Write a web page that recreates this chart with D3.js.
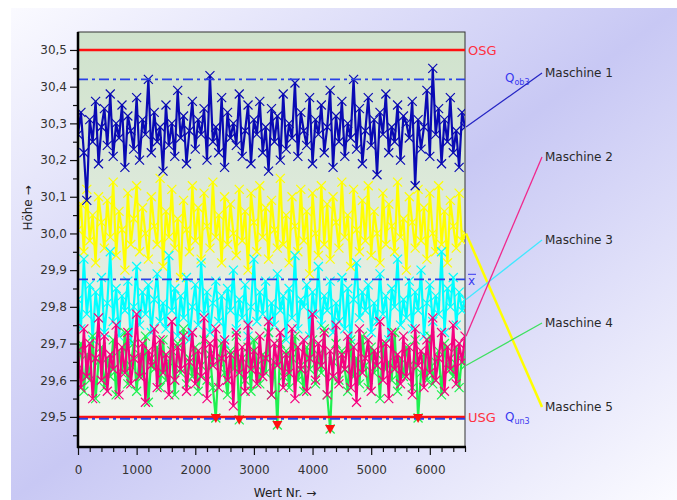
<!DOCTYPE html>
<html>
<head>
<meta charset="utf-8">
<script src="https://cdn.jsdelivr.net/npm/d3@7"></script>
<style>
  body { margin: 0; background: #fff; }
  text { font-family: "DejaVu Sans", Arial, sans-serif; }
</style>
</head>
<body>
<div id="chart"></div>
<script>
// measured values, one point every 50 parts (Wert Nr.)
var xStep = 50;
var maschine1 = [
  30.27,30.33,30.22,30.09,30.31,30.25,30.36,30.19,30.29,30.34,
  30.24,30.38,30.21,30.30,30.26,30.35,30.18,30.32,30.28,30.23,
  30.37,30.20,30.31,30.27,30.42,30.22,30.33,30.25,30.29,30.17,
  30.35,30.24,30.30,30.21,30.39,30.26,30.32,30.19,30.28,30.36,
  30.23,30.31,30.27,30.34,30.20,30.43,30.25,30.29,30.22,30.37,
  30.18,30.33,30.26,30.30,30.24,30.38,30.21,30.28,30.35,30.19,
  30.31,30.27,30.36,30.22,30.29,30.17,30.34,30.25,30.32,30.20,
  30.38,30.23,30.30,30.26,30.41,30.21,30.33,30.28,30.24,30.37,
  30.19,30.31,30.27,30.35,30.22,30.29,30.39,30.18,30.32,30.25,
  30.36,30.21,30.30,30.26,30.42,30.23,30.34,30.19,30.28,30.37,
  30.24,30.31,30.16,30.33,30.27,30.38,30.22,30.29,30.25,30.35,
  30.20,30.32,30.30,30.26,30.36,30.13,30.31,30.23,30.29,30.39,
  30.21,30.45,30.27,30.34,30.19,30.31,30.25,30.37,30.22,30.28,
  30.18,30.33,30.29
];
var maschine2 = [
  29.68,29.58,29.74,29.61,29.70,29.55,29.66,29.77,29.60,29.72,
  29.57,29.67,29.63,29.75,29.56,29.69,29.62,29.73,29.59,29.66,
  29.78,29.61,29.70,29.54,29.68,29.64,29.74,29.58,29.71,29.62,
  29.67,29.56,29.76,29.60,29.69,29.63,29.72,29.57,29.65,29.73,
  29.59,29.68,29.61,29.77,29.55,29.70,29.64,29.74,29.58,29.66,
  29.71,29.60,29.67,29.53,29.73,29.62,29.69,29.57,29.75,29.63,
  29.68,29.59,29.72,29.61,29.66,29.76,29.56,29.70,29.64,29.73,
  29.58,29.67,29.62,29.74,29.55,29.69,29.63,29.71,29.57,29.66,
  29.78,29.60,29.70,29.64,29.73,29.56,29.68,29.61,29.75,29.59,
  29.67,29.63,29.72,29.58,29.69,29.54,29.74,29.62,29.66,29.71,
  29.57,29.68,29.64,29.76,29.60,29.70,29.55,29.73,29.63,29.67,
  29.59,29.72,29.61,29.69,29.56,29.74,29.64,29.68,29.58,29.71,
  29.62,29.77,29.60,29.66,29.73,29.57,29.69,29.63,29.75,29.59,
  29.70,29.65,29.72
];
var maschine3 = [
  29.82,29.74,29.93,29.78,29.86,29.71,29.84,29.77,29.88,29.73,
  29.81,29.95,29.76,29.85,29.72,29.83,29.79,29.87,29.70,29.80,
  29.91,29.75,29.84,29.78,29.86,29.73,29.82,29.89,29.76,29.81,
  29.74,29.94,29.79,29.85,29.72,29.83,29.77,29.88,29.71,29.80,
  29.86,29.75,29.92,29.78,29.84,29.73,29.81,29.87,29.76,29.83,
  29.70,29.85,29.79,29.90,29.74,29.82,29.77,29.86,29.72,29.80,
  29.93,29.76,29.84,29.78,29.87,29.73,29.81,29.75,29.89,29.79,
  29.83,29.71,29.85,29.77,29.94,29.74,29.82,29.80,29.86,29.72,
  29.84,29.78,29.91,29.75,29.83,29.79,29.87,29.73,29.81,29.76,
  29.88,29.74,29.85,29.70,29.82,29.92,29.77,29.84,29.79,29.86,
  29.73,29.81,29.76,29.89,29.78,29.83,29.71,29.85,29.80,29.93,
  29.75,29.82,29.77,29.87,29.74,29.84,29.79,29.90,29.72,29.81,
  29.86,29.76,29.83,29.78,29.95,29.73,29.85,29.80,29.88,29.75,
  29.84,29.79,29.82
];
var maschine4 = [
  29.63,29.70,29.57,29.67,29.60,29.72,29.55,29.65,29.69,29.58,
  29.66,29.61,29.71,29.56,29.68,29.62,29.73,29.59,29.64,29.70,
  29.57,29.67,29.61,29.72,29.54,29.66,29.63,29.69,29.58,29.71,
  29.60,29.65,29.68,29.56,29.70,29.62,29.74,29.59,29.66,29.61,
  29.69,29.57,29.64,29.71,29.60,29.67,29.58,29.497,29.65,29.70,
  29.62,29.56,29.68,29.63,29.72,29.492,29.66,29.60,29.69,29.57,
  29.71,29.64,29.59,29.67,29.62,29.73,29.56,29.65,29.478,29.70,
  29.61,29.68,29.58,29.66,29.72,29.60,29.64,29.57,29.69,29.63,
  29.71,29.59,29.67,29.62,29.74,29.56,29.467,29.65,29.70,29.60,
  29.68,29.63,29.57,29.71,29.61,29.66,29.59,29.72,29.64,29.58,
  29.69,29.62,29.67,29.55,29.70,29.63,29.65,29.60,29.73,29.57,
  29.66,29.61,29.69,29.64,29.58,29.71,29.497,29.62,29.67,29.60,
  29.72,29.59,29.65,29.68,29.56,29.70,29.63,29.66,29.61,29.69,
  29.58,29.67,29.64
];
var maschine5 = [
  30.01,30.08,29.95,30.12,29.98,30.05,29.92,30.10,30.03,29.96,
  30.09,29.99,30.14,29.94,30.06,30.01,29.90,30.11,29.97,30.04,
  30.13,29.95,30.07,30.00,29.93,30.10,30.02,29.97,30.15,29.91,
  30.06,29.99,30.12,29.96,30.04,29.88,30.09,30.01,29.95,30.13,
  29.98,30.07,29.93,30.11,30.02,29.96,30.14,29.99,30.05,29.92,
  30.10,29.97,30.08,30.00,29.94,30.12,29.98,30.06,29.90,30.11,
  30.03,29.95,30.13,29.99,30.07,29.93,30.09,30.01,29.96,30.15,
  29.97,30.05,29.92,30.10,30.02,29.95,30.12,29.98,30.06,29.89,
  30.11,30.00,29.94,30.13,29.97,30.08,29.93,30.10,30.03,29.96,
  30.14,29.99,30.05,29.91,30.12,30.01,29.95,30.09,29.98,30.13,
  29.94,30.06,30.00,29.92,30.11,29.97,30.08,30.02,29.95,30.14,
  29.99,30.04,29.90,30.10,30.03,29.96,30.12,29.98,30.07,29.93,
  30.11,30.00,29.95,30.13,29.97,30.06,29.92,30.09,30.02,29.96,
  30.11,29.98,30.00
];

// limits and reference lines
var OSG = 30.5, USG = 29.5;
var Qob3 = 30.42, Qun3 = 29.495, xQuer = 29.875;

var yTicks = [29.5, 29.6, 29.7, 29.8, 29.9, 30.0, 30.1, 30.2, 30.3, 30.4, 30.5];
var xTicks = [0, 1000, 2000, 3000, 4000, 5000, 6000];

var series = [
  { name: "Maschine 5", values: maschine5, color: "#ffff00", legendColor: "#ffff00", labelY: 407, lw: 2.5 },
  { name: "Maschine 1", values: maschine1, color: "#0a0ab4", legendColor: "#2626c4", labelY: 73, lw: 1.3 },
  { name: "Maschine 3", values: maschine3, color: "#00ffff", legendColor: "#40e8ff", labelY: 240, lw: 1.3 },
  { name: "Maschine 4", values: maschine4, color: "#1ef050", legendColor: "#3ee060", labelY: 323, lw: 1.3 },
  { name: "Maschine 2", values: maschine2, color: "#f5007f", legendColor: "#f0288c", labelY: 157, lw: 1.3 }
];

var width = 677, height = 500;
var pLeft = 78, pRight = 465, pTop = 32, pBottom = 447;

var svg = d3.select("#chart").append("svg")
    .attr("width", width)
    .attr("height", height);

var defs = svg.append("defs");
var bg = defs.append("linearGradient").attr("id", "bg")
    .attr("x1", 0).attr("y1", 0).attr("x2", 1).attr("y2", 1);
bg.append("stop").attr("offset", 0).attr("stop-color", "#fafaff");
bg.append("stop").attr("offset", 0.5).attr("stop-color", "#c8c8f4");
bg.append("stop").attr("offset", 1).attr("stop-color", "#fbfbff");

var pg = defs.append("linearGradient").attr("id", "plotbg")
    .attr("x1", 0).attr("y1", 0).attr("x2", 0).attr("y2", 1);
pg.append("stop").attr("offset", 0).attr("stop-color", "#cfe2cc");
pg.append("stop").attr("offset", 1).attr("stop-color", "#f3f5f1");

defs.append("clipPath").attr("id", "clip")
  .append("rect").attr("x", pLeft).attr("y", pTop)
    .attr("width", pRight - pLeft).attr("height", pBottom - pTop);

svg.append("rect").attr("x", 11).attr("y", 8)
    .attr("width", width - 11).attr("height", height - 8)
    .attr("fill", "url(#bg)");

svg.append("rect").attr("x", pLeft).attr("y", pTop)
    .attr("width", pRight - pLeft).attr("height", pBottom - pTop)
    .attr("fill", "url(#plotbg)")
    .attr("stroke", "#333").attr("stroke-width", 1);

var x = d3.scaleLinear().domain([0, 6600]).range([pLeft, pRight]);
var y = d3.scaleLinear().domain([29.418, 30.549]).range([pBottom, pTop]);

var de = d3.formatLocale({ decimal: ",", thousands: ".", grouping: [3], currency: ["", "€"] });
var fmt = de.format(".1f");

var plot = svg.append("g").attr("clip-path", "url(#clip)");

function refLine(v, color, dash, w) {
  plot.append("line")
    .attr("x1", pLeft).attr("x2", pRight)
    .attr("y1", y(v)).attr("y2", y(v))
    .attr("stroke", color).attr("stroke-width", w)
    .attr("stroke-dasharray", dash);
}

// series
var line = d3.line()
    .x(function (d, i) { return x(i * xStep); })
    .y(function (d) { return y(d); });

series.forEach(function (s) {
  var g = plot.append("g");
  g.append("path")
    .datum(s.values)
    .attr("d", line)
    .attr("fill", "none")
    .attr("stroke", s.color)
    .attr("stroke-width", 2.2)
    .attr("stroke-linejoin", "bevel");
  g.selectAll("path.m")
    .data(s.values)
    .enter().append("path")
    .attr("class", "m")
    .attr("d", function (d, i) {
      var cx = x(i * xStep), cy = y(d), r = 4.5;
      return "M" + (cx - r) + "," + (cy - r) + "L" + (cx + r) + "," + (cy + r) +
             "M" + (cx - r) + "," + (cy + r) + "L" + (cx + r) + "," + (cy - r);
    })
    .attr("stroke", s.color)
    .attr("stroke-width", 1.2);
});

refLine(OSG, "#ff1010", null, 2.5);
refLine(Qob3, "#2a40e6", "10,4,3,4", 1.8);
refLine(xQuer, "#2a40e6", "10,4,3,4", 1.8);
refLine(USG, "#ff1010", null, 2.5);
refLine(Qun3, "#2a40e6", "10,4,3,4", 1.8);

// values below USG
var below = [];
maschine4.forEach(function (v, i) { if (v < USG) below.push({ i: i, v: v }); });
plot.selectAll("path.out")
  .data(below)
  .enter().append("path")
  .attr("class", "out")
  .attr("d", function (d) {
    var cx = x(d.i * xStep), cy = y(d.v);
    return "M" + (cx - 5) + "," + (cy - 4) + "L" + (cx + 5) + "," + (cy - 4) + "L" + cx + "," + (cy + 5) + "Z";
  })
  .attr("fill", "#ff1010");

// axes
var yAxis = svg.append("g").attr("transform", "translate(" + pLeft + ",0)")
  .call(d3.axisLeft(y).tickValues(yTicks).tickFormat(fmt).tickSize(8).tickSizeOuter(0));
svg.append("g").attr("transform", "translate(" + pLeft + ",0)")
  .call(d3.axisLeft(y).tickValues(d3.range(29.45, 30.46, 0.1)).tickFormat("").tickSize(5).tickSizeOuter(0));

var xAxis = svg.append("g").attr("transform", "translate(0," + pBottom + ")")
  .call(d3.axisBottom(x).tickValues(xTicks).tickFormat(d3.format("d")).tickSize(8).tickSizeOuter(0));
svg.append("g").attr("transform", "translate(0," + pBottom + ")")
  .call(d3.axisBottom(x).tickValues(d3.range(200, 6601, 200).filter(function (v) { return v % 1000; }))
    .tickFormat("").tickSize(5).tickSizeOuter(0));

svg.selectAll(".domain").remove();
svg.selectAll(".tick line").attr("stroke", "#111").attr("stroke-width", 1.2);
svg.selectAll(".tick text").attr("font-size", 12).attr("fill", "#333")
  .attr("font-family", "DejaVu Sans, Arial, sans-serif");
yAxis.selectAll(".tick text").attr("x", -11);
xAxis.selectAll(".tick text").attr("y", 18);

svg.append("line").attr("x1", pLeft).attr("x2", pLeft).attr("y1", pTop).attr("y2", pBottom + 1)
  .attr("stroke", "#000").attr("stroke-width", 2.5);
svg.append("line").attr("x1", pLeft - 1).attr("x2", pRight + 1).attr("y1", pBottom).attr("y2", pBottom)
  .attr("stroke", "#000").attr("stroke-width", 2.5);

// axis titles
svg.append("text")
  .attr("transform", "translate(32,208) rotate(-90)")
  .attr("text-anchor", "middle")
  .attr("font-size", 12).attr("fill", "#222")
  .text("Höhe →");
svg.append("text")
  .attr("x", 285).attr("y", 497)
  .attr("text-anchor", "middle")
  .attr("font-size", 12).attr("fill", "#222")
  .text("Wert Nr. →");

// limit labels
svg.append("text").attr("x", 468).attr("y", y(OSG) + 5)
  .attr("font-size", 13).attr("fill", "#ff3040").text("OSG");
svg.append("text").attr("x", 468).attr("y", y(USG) + 5)
  .attr("font-size", 13).attr("fill", "#ff3040").text("USG");

var qo = svg.append("text").attr("x", 505).attr("y", 82)
  .attr("font-size", 12).attr("fill", "#3838f0");
qo.append("tspan").text("Q");
qo.append("tspan").attr("font-size", 8).attr("dy", 3).text("ob3");

var qu = svg.append("text").attr("x", 505).attr("y", 421)
  .attr("font-size", 12).attr("fill", "#3838f0");
qu.append("tspan").text("Q");
qu.append("tspan").attr("font-size", 8).attr("dy", 3).text("un3");

svg.append("text").attr("x", 468).attr("y", y(xQuer) + 6)
  .attr("font-size", 12).attr("fill", "#3838f0").text("x");
svg.append("line").attr("x1", 468).attr("x2", 476)
  .attr("y1", y(xQuer) - 5).attr("y2", y(xQuer) - 5)
  .attr("stroke", "#3838f0").attr("stroke-width", 1);

// legend with connector lines
series.forEach(function (s) {
  var last = s.values[s.values.length - 1];
  svg.append("line")
    .attr("x1", 542).attr("y1", s.labelY)
    .attr("x2", pRight + 1).attr("y2", y(last))
    .attr("stroke", s.legendColor).attr("stroke-width", s.lw);
  svg.append("text")
    .attr("x", 545).attr("y", s.labelY + 4)
    .attr("font-size", 12).attr("fill", "#2a2a2a")
    .text(s.name);
});
</script>
</body>
</html>
